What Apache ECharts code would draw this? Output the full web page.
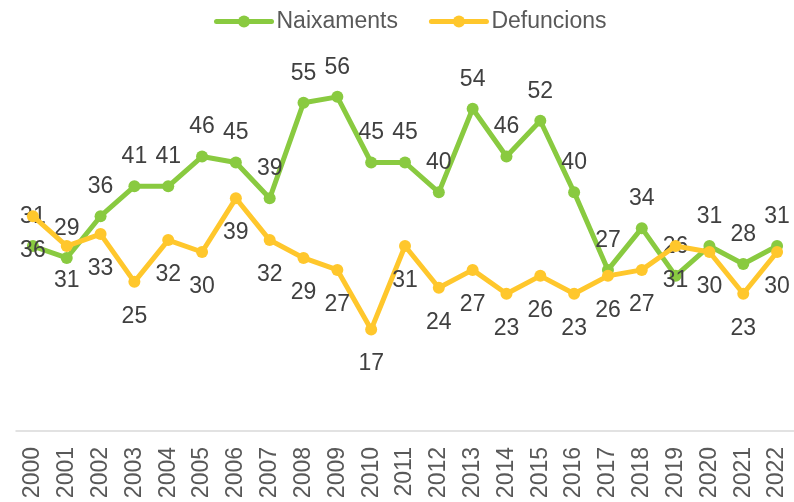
<!DOCTYPE html>
<html>
<head>
<meta charset="utf-8">
<script src="https://cdn.jsdelivr.net/npm/echarts@6/dist/echarts.min.js"></script>
<style>
  html, body { margin: 0; padding: 0; background: #fff; }
  #main { width: 794px; height: 502px; }
</style>
</head>
<body>
<div id="main"></div>
<script>
// anys
var years = ['2000','2001','2002','2003','2004','2005','2006','2007','2008','2009','2010','2011',
  '2012','2013','2014','2015','2016','2017','2018','2019','2020','2021','2022'];
var naixaments = [31,29,36,41,41,46,45,39,55,56,45,45,40,54,46,52,40,27,34,26,31,28,31];
var defuncions = [36,31,33,25,32,30,39,32,29,27,17,31,24,27,23,26,23,26,27,31,30,23,30];

var fontFam = '"Liberation Sans", Arial, sans-serif';
var green = '#89CA40', yellow = '#FFC72C';

var chart = echarts.init(document.getElementById('main'), null, {renderer: 'canvas'});

function lineSerie(name, data, color, pos, dist, z){
  return {
    name: name,
    type: 'line',
    data: data,
    z: z,
    symbol: 'circle',
    symbolSize: 12,
    itemStyle: {color: color},
    lineStyle: {color: color, width: 5, cap: 'round', join: 'round'},
    label: {
      show: true,
      position: pos,
      distance: dist,
      color: '#404040',
      fontSize: 23,
      fontFamily: fontFam
    },
    emphasis: {disabled: true},
    animation: false
  };
}

chart.setOption({
  backgroundColor: '#fff',
  textStyle: {fontFamily: fontFam},
  legend: {
    left: 214,
    top: 10,
    padding: 0,
    itemWidth: 55,
    itemHeight: 15,
    itemGap: 31,
    lineStyle: {width: 5},
    textStyle: {color: '#595959', fontSize: 23, fontFamily: fontFam},
    data: ['Naixaments', 'Defuncions']
  },
  grid: {left: 16, right: -4, top: 73, bottom: 71, containLabel: false},
  xAxis: {
    type: 'category',
    data: years,
    boundaryGap: true,
    axisLine: {lineStyle: {color: '#d9d9d9', width: 1.5}},
    axisTick: {show: false},
    axisLabel: {
      rotate: 90,
      margin: 16,
      interval: 0,
      color: '#595959',
      fontSize: 23,
      fontFamily: fontFam
    }
  },
  yAxis: {
    type: 'value',
    min: 0,
    max: 60,
    show: false,
    splitLine: {show: false}
  },
  series: [
    lineSerie('Naixaments', naixaments, green, 'top', 12, 2),
    lineSerie('Defuncions', defuncions, yellow, 'bottom', 17, 3)
  ]
});
</script>
</body>
</html>
